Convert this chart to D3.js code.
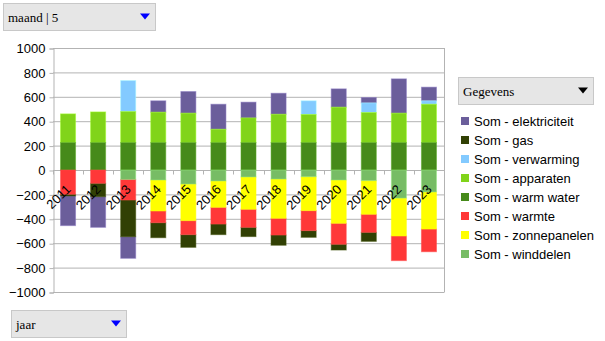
<!DOCTYPE html>
<html><head><meta charset="utf-8">
<script src="https://cdn.jsdelivr.net/npm/d3@7"></script>
<style>body{margin:0;background:#fff}svg{display:block}</style>
</head><body>
<svg id="c" width="605" height="341"></svg>
<script>
const years = ["2011","2012","2013","2014","2015","2016","2017","2018","2019","2020","2021","2022","2023"];
const seriesNames = ["Som - elektriciteit","Som - gas","Som - verwarming","Som - apparaten","Som - warm water","Som - warmte","Som - zonnepanelen","Som - winddelen"];
const colors = ["#6b5e9b","#314004","#83caff","#81d41a","#468a1a","#ff3838","#ffff00","#77bc65"];
const elektriciteit = [-243,-251,-177,93,177,205,129,172,0,150,44,281,112];
const gas = [-14,-110,-301,-123,-104,-87,-76,-84,-55,-47,-74,0,0];
const verwarming = [0,0,254,0,0,0,0,0,112,0,79,0,28];
const apparaten = [235,251,254,249,241,109,202,232,230,290,246,241,314];
const warmWater = [225,225,225,225,225,225,225,225,225,225,225,225,225];
const warmte = [-199,-109,-169,-96,-115,-137,-148,-137,-164,-172,-148,-202,-186];
const zonnepanelen = [0,0,0,-254,-300,-216,-265,-322,-278,-355,-276,-311,-304];
const winddelen = [0,0,-77,-82,-115,-90,-57,-74,-55,-82,-87,-230,-180];
const yTicks = [1000,800,600,400,200,0,-200,-400,-600,-800,-1000];

const valueArrays = [elektriciteit,gas,verwarming,apparaten,warmWater,warmte,zonnepanelen,winddelen];
const rows = years.map((y,i)=>{const r={year:y}; seriesNames.forEach((s,k)=>r[s]=valueArrays[k][i]); return r;});

const svg = d3.select("#c");
const L=53,R=444,T=48,B=292;
const x = d3.scaleBand().domain(years).range([L,R]).paddingInner(0.5).paddingOuter(0.25);
const y = d3.scaleLinear().domain([-1000,1000]).range([B,T]);

// gridlines
svg.append("g").selectAll("line").data(yTicks).join("line")
  .attr("x1",L).attr("x2",R).attr("y1",d=>y(d)+0.5).attr("y2",d=>y(d)+0.5)
  .attr("stroke","#b3b3b3").attr("stroke-width",1);
svg.append("line").attr("x1",R+0.5).attr("x2",R+0.5).attr("y1",T).attr("y2",B+0.5).attr("stroke","#b3b3b3");

// y axis
const ya = svg.append("g").attr("transform",`translate(${L+0.5},0.5)`)
  .call(d3.axisLeft(y).tickValues(yTicks).tickSize(4).tickPadding(4).tickFormat(d3.format("d")));
ya.select(".domain").attr("stroke","#b3b3b3");
ya.selectAll(".tick line").attr("stroke","#b3b3b3");
ya.selectAll("text").attr("font-family","Liberation Sans, Arial, sans-serif").attr("font-size",13).attr("fill","#000");

// stacks
const stack = d3.stack().keys(seriesNames).order(d3.stackOrderReverse).offset(d3.stackOffsetDiverging);
const layers = stack(rows);
svg.append("g").selectAll("g").data(layers).join("g")
  .attr("fill",(d)=>colors[seriesNames.indexOf(d.key)])
  .attr("stroke",(d)=>d3.color(colors[seriesNames.indexOf(d.key)]).brighter(0.6))
  .attr("stroke-opacity",0.5)
  .selectAll("rect").data(d=>d).join("rect")
  .attr("x",d=>x(d.data.year))
  .attr("width",x.bandwidth())
  .attr("y",d=>y(Math.max(d[0],d[1])))
  .attr("height",d=>Math.abs(y(d[0])-y(d[1])));

// x axis ticks at zero line
const xa = svg.append("g").attr("transform",`translate(0,${y(0)+0.5})`);
const bounds = years.map((d,i)=>L+(R-L)/years.length*i).concat([R]);
xa.selectAll("line").data(bounds).join("line")
  .attr("x1",d=>Math.round(d)+0.5).attr("x2",d=>Math.round(d)+0.5).attr("y1",0).attr("y2",4).attr("stroke","#b3b3b3");
xa.selectAll("text").data(years).join("text")
  .attr("transform",d=>`translate(${x(d)+x.bandwidth()/2-3},13) rotate(-45)`)
  .attr("text-anchor","end").attr("dy","0.71em")
  .attr("font-family","Liberation Sans, Arial, sans-serif").attr("font-size",13).attr("fill","#000")
  .text(d=>d);

// dropdowns
function dropdown(x0,y0,w,h,label,tri){
  const g=svg.append("g");
  g.append("rect").attr("x",x0+0.5).attr("y",y0+0.5).attr("width",w).attr("height",h).attr("fill","#e6e6e6").attr("stroke","#c8c8c8");
  g.append("text").attr("x",x0+5).attr("y",y0+h/2+5).attr("font-family","Liberation Serif, Times New Roman, serif").attr("font-size",13).attr("fill","#000").text(label);
  const cx=x0+w-10, cy=y0+h/2;
  g.append("path").attr("d",`M${cx-5},${cy-3}L${cx+5},${cy-3}L${cx},${cy+3}Z`).attr("fill",tri);
}
dropdown(3,3,152,27,"maand | 5","#0000ff");
dropdown(11,310,115,27,"jaar","#0000ff");
dropdown(458,77,135,27,"Gegevens","#000000");

// legend
const lg = svg.append("g");
seriesNames.forEach((s,i)=>{
  const yy=122+i*19;
  lg.append("rect").attr("x",461).attr("y",yy-5).attr("width",8).attr("height",8).attr("fill",colors[i]);
  lg.append("text").attr("x",474).attr("y",yy+4).attr("font-family","Liberation Sans, Arial, sans-serif").attr("font-size",13).attr("fill","#000").text(s);
});
</script>
</body></html>
